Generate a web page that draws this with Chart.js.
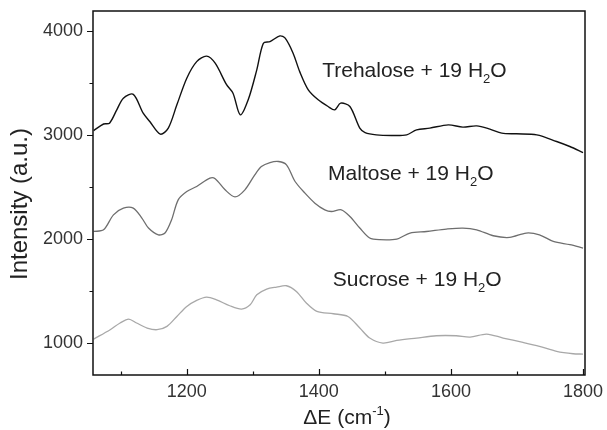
<!DOCTYPE html>
<html>
<head>
<meta charset="utf-8">
<script src="https://cdn.jsdelivr.net/npm/chart.js@4/dist/chart.umd.min.js"></script>
<style>
    body { margin: 0; background: #fff; }
    #wrap { width: 607px; height: 430px; }
</style>
</head>
<body>
<div id="wrap"><canvas id="spectraChart"></canvas></div>
<script>
// Datos (Delta E en cm-1, intensidad en u.a.)
const trehaloseX = [1059, 1074, 1083, 1094, 1104, 1119, 1134, 1144, 1160, 1172, 1185, 1200, 1215, 1230, 1243, 1260, 1270, 1281, 1293, 1306, 1316, 1326, 1341, 1349, 1361, 1371, 1384, 1399, 1414, 1424, 1433, 1447, 1462, 1470, 1487, 1510, 1533, 1548, 1568, 1596, 1618, 1639, 1659, 1677, 1699, 1730, 1760, 1780, 1800];
const trehaloseY = [3042, 3105, 3113, 3241, 3353, 3390, 3209, 3129, 3008, 3065, 3289, 3545, 3704, 3757, 3689, 3485, 3401, 3193, 3337, 3625, 3881, 3896, 3951, 3929, 3785, 3608, 3433, 3337, 3273, 3241, 3305, 3273, 3065, 3023, 3001, 2995, 3001, 3049, 3065, 3097, 3075, 3087, 3056, 3017, 3011, 3001, 2937, 2889, 2831];

const maltoseX = [1059, 1074, 1089, 1104, 1119, 1132, 1142, 1157, 1167, 1177, 1187, 1200, 1215, 1235, 1243, 1258, 1273, 1288, 1303, 1313, 1326, 1339, 1351, 1364, 1379, 1394, 1409, 1419, 1434, 1447, 1462, 1477, 1492, 1518, 1538, 1563, 1593, 1618, 1639, 1664, 1689, 1714, 1734, 1755, 1780, 1800];
const maltoseY = [2073, 2089, 2233, 2297, 2297, 2202, 2106, 2041, 2058, 2185, 2377, 2457, 2505, 2585, 2580, 2473, 2405, 2473, 2617, 2697, 2735, 2745, 2713, 2553, 2441, 2345, 2281, 2265, 2281, 2217, 2106, 2010, 1994, 2000, 2058, 2073, 2096, 2106, 2089, 2032, 2016, 2058, 2041, 1977, 1946, 1914];

const sucroseX = [1059, 1084, 1099, 1112, 1124, 1140, 1155, 1170, 1185, 1200, 1215, 1230, 1245, 1265, 1283, 1296, 1306, 1321, 1336, 1351, 1366, 1381, 1397, 1422, 1444, 1462, 1477, 1497, 1518, 1548, 1578, 1608, 1629, 1654, 1679, 1709, 1734, 1760, 1785, 1800];
const sucroseY = [1040, 1130, 1194, 1232, 1194, 1146, 1130, 1162, 1257, 1353, 1411, 1443, 1417, 1360, 1328, 1369, 1465, 1520, 1539, 1552, 1497, 1386, 1306, 1283, 1257, 1146, 1050, 1002, 1027, 1050, 1072, 1072, 1059, 1088, 1050, 1008, 970, 922, 899, 896];

const seriesNames = ['Trehalose', 'Maltose', 'Sucrose'];
const waterLabel = '+ 19 H';

const xTicks = [1200, 1400, 1600, 1800];
const xMinorTicks = [1100, 1300, 1500, 1700];
const yTicks = [1000, 2000, 3000, 4000];
const yMinorTicks = [1500, 2500, 3500];

function toPoints(xs, ys) {
    return xs.map((x, i) => ({ x: x, y: ys[i] }));
}

const FONT = "'Liberation Sans', Arial, sans-serif";

// Marco, marcas de ejes y textos
const decorPlugin = {
    id: 'decor',
    afterDraw(chart) {
        const ctx = chart.ctx;
        const area = chart.chartArea;
        const xs = chart.scales.x;
        const ys = chart.scales.y;

        ctx.save();
        ctx.strokeStyle = '#111';
        ctx.lineWidth = 1.5;
        ctx.strokeRect(area.left, area.top, area.right - area.left, area.bottom - area.top);

        // marcas del eje x (hacia dentro)
        ctx.lineWidth = 1.2;
        ctx.beginPath();
        xTicks.forEach(v => {
            const px = Math.round(xs.getPixelForValue(v)) + 0.5;
            ctx.moveTo(px, area.bottom);
            ctx.lineTo(px, area.bottom - 6);
        });
        xMinorTicks.forEach(v => {
            const px = Math.round(xs.getPixelForValue(v)) + 0.5;
            ctx.moveTo(px, area.bottom);
            ctx.lineTo(px, area.bottom - 3.5);
        });
        // marcas del eje y (hacia fuera)
        yTicks.forEach(v => {
            const py = Math.round(ys.getPixelForValue(v)) + 0.5;
            ctx.moveTo(area.left, py);
            ctx.lineTo(area.left - 6, py);
        });
        yMinorTicks.forEach(v => {
            const py = Math.round(ys.getPixelForValue(v)) + 0.5;
            ctx.moveTo(area.left, py);
            ctx.lineTo(area.left - 3.5, py);
        });
        ctx.stroke();

        // etiquetas de las curvas
        const labelPos = [[1405, 3555], [1414, 2569], [1421, 1545]];
        ctx.fillStyle = '#222';
        ctx.textBaseline = 'alphabetic';
        ctx.textAlign = 'left';
        seriesNames.forEach((name, i) => {
            let px = xs.getPixelForValue(labelPos[i][0]);
            const py = ys.getPixelForValue(labelPos[i][1]);
            ctx.font = '21px ' + FONT;
            const main = name + ' ' + waterLabel;
            ctx.fillText(main, px, py);
            px += ctx.measureText(main).width;
            ctx.font = '13px ' + FONT;
            ctx.fillText('2', px, py + 6);
            px += ctx.measureText('2').width;
            ctx.font = '21px ' + FONT;
            ctx.fillText('O', px, py);
        });

        // titulo eje x con superindice
        ctx.fillStyle = '#222';
        const part1 = '\u0394E (cm';
        const sup = '-1';
        const part2 = ')';
        ctx.font = '13px ' + FONT;
        const wSup = ctx.measureText(sup).width;
        ctx.font = '21px ' + FONT;
        const total = ctx.measureText(part1).width + wSup + ctx.measureText(part2).width;
        let tx = (area.left + area.right) / 2 + 8 - total / 2;
        const ty = 424;
        ctx.fillText(part1, tx, ty);
        tx += ctx.measureText(part1).width;
        ctx.font = '13px ' + FONT;
        ctx.fillText(sup, tx, ty - 9);
        tx += wSup;
        ctx.font = '21px ' + FONT;
        ctx.fillText(part2, tx, ty);

        // titulo eje y
        ctx.translate(20, 204);
        ctx.rotate(-Math.PI / 2);
        ctx.textAlign = 'center';
        ctx.textBaseline = 'middle';
        ctx.font = '24px ' + FONT;
        ctx.fillText('Intensity (a.u.)', 0, 0);
        ctx.restore();
    }
};

const ctx = document.getElementById('spectraChart');

new Chart(ctx, {
    type: 'line',
    data: {
        datasets: [
            {
                label: seriesNames[0],
                data: toPoints(trehaloseX, trehaloseY),
                borderColor: '#111111',
                borderWidth: 1.4,
                tension: 0.3
            },
            {
                label: seriesNames[1],
                data: toPoints(maltoseX, maltoseY),
                borderColor: '#6e6e6e',
                borderWidth: 1.3,
                tension: 0.3
            },
            {
                label: seriesNames[2],
                data: toPoints(sucroseX, sucroseY),
                borderColor: '#a8a8a8',
                borderWidth: 1.3,
                tension: 0.3
            }
        ]
    },
    options: {
        responsive: true,
        maintainAspectRatio: false,
        animation: false,
        layout: {
            padding: { top: 11, right: 22, left: 0, bottom: 0 }
        },
        elements: {
            point: { radius: 0 }
        },
        plugins: {
            legend: { display: false },
            tooltip: { enabled: false }
        },
        scales: {
            x: {
                type: 'linear',
                min: 1058,
                max: 1803,
                afterBuildTicks: scale => { scale.ticks = xTicks.map(v => ({ value: v })); },
                afterFit: scale => {
                    scale.height = 55;
                    scale.paddingLeft = 0;
                    scale.paddingRight = 0;
                },
                grid: { display: false, drawTicks: false },
                border: { display: false },
                ticks: {
                    color: '#333',
                    padding: 6,
                    maxRotation: 0,
                    font: { family: FONT, size: 18 },
                    callback: value => String(value)
                }
            },
            y: {
                min: 695,
                max: 4190,
                afterBuildTicks: scale => { scale.ticks = yTicks.map(v => ({ value: v })); },
                afterFit: scale => {
                    scale.width = 93;
                    scale.paddingTop = 0;
                    scale.paddingBottom = 0;
                },
                grid: { display: false, drawTicks: false },
                border: { display: false },
                ticks: {
                    color: '#333',
                    padding: 10,
                    font: { family: FONT, size: 18 },
                    callback: value => String(value)
                }
            }
        }
    },
    plugins: [decorPlugin]
});
</script>
</body>
</html>
